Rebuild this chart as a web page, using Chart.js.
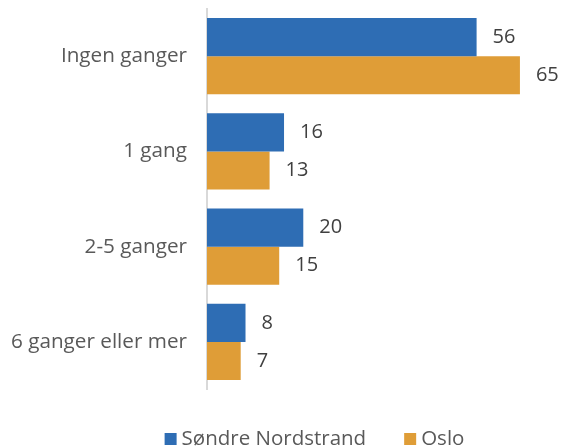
<!DOCTYPE html>
<html><head><meta charset="utf-8">
<script src="https://cdn.jsdelivr.net/npm/chart.js@4/dist/chart.umd.min.js"></script>
<style>html,body{margin:0;padding:0;background:#fff}#wrap{width:561px;height:447px}</style>
</head><body><div id="wrap"><canvas id="c" width="561" height="447"></canvas></div>
<script>
const categories = ["Ingen ganger", "1 gang", "2-5 ganger", "6 ganger eller mer"];
const seriesNames = ["Søndre Nordstrand", "Oslo"];
const sondreNordstrand = [56, 16, 20, 8];
const oslo = [65, 13, 15, 7];
const seriesColors = ['#2E6DB4', '#DF9D37'];

const FONT = "'Open Sans', sans-serif";
const labelPlugin = {
  id: 'vals',
  afterDatasetsDraw(chart) {
    const ctx = chart.ctx;
    ctx.save();
    ctx.font = "20px " + FONT;
    ctx.fillStyle = "#404040";
    ctx.textBaseline = "middle";
    ctx.textAlign = "left";
    chart.data.datasets.forEach((ds, i) => {
      chart.getDatasetMeta(i).data.forEach((bar, j) => {
        ctx.fillText(String(ds.data[j]), bar.x + 16, bar.y);
      });
    });
    ctx.restore();
  }
};

const legendPlugin = {
  id: 'customLegend',
  afterDraw(chart) {
    const ctx = chart.ctx;
    ctx.save();
    ctx.font = "20.5px " + FONT;
    ctx.textBaseline = "middle";
    ctx.textAlign = "left";
    const box = 12, gap = 5, itemGap = 38, cy = 439;
    const items = chart.data.datasets.map(ds => ({label: ds.label, color: ds.backgroundColor, w: ctx.measureText(ds.label).width}));
    let total = 0;
    items.forEach((it, i) => { total += box + gap + it.w + (i ? itemGap : 0); });
    let x = 314.5 - total / 2;
    items.forEach(it => {
      ctx.fillStyle = it.color;
      ctx.fillRect(x, cy - 6, box, box);
      ctx.fillStyle = '#595959';
      ctx.fillText(it.label, x + box + gap, cy);
      x += box + gap + it.w + itemGap;
    });
    ctx.restore();
  }
};

new Chart(document.getElementById('c'), {
  type: 'bar',
  data: {
    labels: categories,
    datasets: [
      {label: seriesNames[0], data: sondreNordstrand, backgroundColor: seriesColors[0], categoryPercentage: 0.8, barPercentage: 1.0},
      {label: seriesNames[1], data: oslo, backgroundColor: seriesColors[1], categoryPercentage: 0.8, barPercentage: 1.0}
    ]
  },
  options: {
    indexAxis: 'y',
    responsive: false,
    animation: false,
    layout: {padding: {top: 8.5, right: 17, left: 0, bottom: 57.5}},
    scales: {
      x: {display: false, min: 0, max: 70},
      y: {
        grid: {display: true, drawOnChartArea: false, drawTicks: true, tickLength: 19, color: 'rgba(0,0,0,0)'},
        border: {display: true, color: '#D9D9D9', width: 2},
        ticks: {color: '#595959', font: {family: FONT, size: 20.7, lineHeight: 0.7}, padding: 1},
        afterFit(s) { s.width = 207; }
      }
    },
    plugins: {
      tooltip: {enabled: false},
      legend: {display: false}
    }
  },
  plugins: [labelPlugin, legendPlugin]
});
</script></body></html>
